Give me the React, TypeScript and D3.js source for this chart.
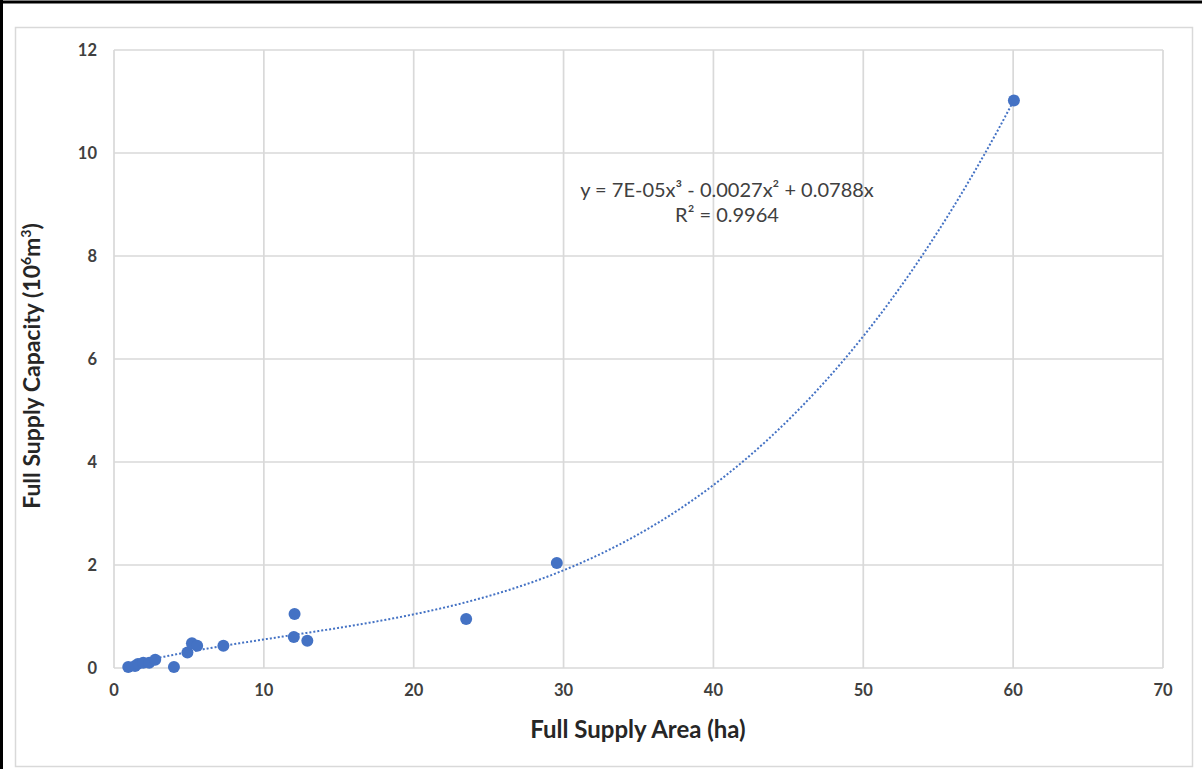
import React from 'react';
import * as d3 from 'd3';

// Full supply area (ha) and full supply capacity (10^6 m3)
const areas = [0.95, 1.4, 1.6, 1.95, 2.35, 2.75, 4.0, 4.9, 5.2, 5.55, 7.3, 12.05, 12.0, 12.9, 23.5, 29.55, 60.05];
const capacities = [0.02, 0.04, 0.08, 0.1, 0.1, 0.16, 0.02, 0.3, 0.48, 0.43, 0.43, 1.05, 0.6, 0.53, 0.95, 2.04, 11.02];

const xTicks = [0, 10, 20, 30, 40, 50, 60, 70];
const yTicks = [0, 2, 4, 6, 8, 10, 12];
const equationLines = ['y = 7E-05x³ - 0.0027x² + 0.0788x', 'R² = 0.9964'];

const W = 1202;
const H = 769;
const plot = { left: 114, right: 1163, top: 50, bottom: 668 };

// cubic fit through origin (like Excel's polynomial trendline with intercept 0)
function fitCubic(xs: number[], ys: number[]) {
  const A = [[0, 0, 0], [0, 0, 0], [0, 0, 0]];
  const b = [0, 0, 0];
  xs.forEach((x, i) => {
    const f = [x, x * x, x * x * x];
    for (let r = 0; r < 3; r++) {
      b[r] += f[r] * ys[i];
      for (let c = 0; c < 3; c++) A[r][c] += f[r] * f[c];
    }
  });
  // gaussian elimination
  for (let i = 0; i < 3; i++) {
    for (let k = i + 1; k < 3; k++) {
      const m = A[k][i] / A[i][i];
      for (let c = i; c < 3; c++) A[k][c] -= m * A[i][c];
      b[k] -= m * b[i];
    }
  }
  const coef = [0, 0, 0];
  for (let i = 2; i >= 0; i--) {
    let s = b[i];
    for (let c = i + 1; c < 3; c++) s -= A[i][c] * coef[c];
    coef[i] = s / A[i][i];
  }
  return (x: number) => coef[0] * x + coef[1] * x * x + coef[2] * x * x * x;
}

const App = () => {
  const x = d3.scaleLinear().domain([0, 70]).range([plot.left, plot.right]);
  const y = d3.scaleLinear().domain([0, 12]).range([plot.bottom, plot.top]);

  const trend = fitCubic(areas, capacities);
  const [xMin, xMax] = d3.extent(areas) as [number, number];
  const trendPts = d3.range(xMin, xMax, 0.1).concat([xMax]).map(v => [v, trend(v)] as [number, number]);
  const line = d3.line<[number, number]>().x(d => x(d[0])).y(d => y(d[1]));

  const blue = '#4472C4';
  const grid = '#d9d9d9';
  const textColor = '#404040';
  const font = 'Lato, "Open Sans", sans-serif';

  return (
    <svg width={W} height={H} style={{ position: 'absolute', left: 0, top: 0 }} fontFamily={font}>
      <rect x={0} y={0} width={W} height={H} fill="#fff" />
      {/* black frame on top and left */}
      <line x1={0} y1={2} x2={W} y2={2} stroke="#000" strokeWidth={3} />
      <line x1={1.5} y1={0} x2={1.5} y2={H} stroke="#000" strokeWidth={3} />
      {/* chart area border */}
      <rect x={15.5} y={27.5} width={1177} height={739} fill="none" stroke={grid} strokeWidth={1.5} />

      {/* gridlines */}
      {yTicks.map(t => (
        <line key={'gy' + t} x1={plot.left} x2={plot.right} y1={y(t)} y2={y(t)} stroke={grid} strokeWidth={1.7} />
      ))}
      {xTicks.map(t => (
        <line key={'gx' + t} x1={x(t)} x2={x(t)} y1={plot.top} y2={plot.bottom} stroke={grid} strokeWidth={1.7} />
      ))}

      {/* tick labels */}
      {yTicks.map(t => (
        <text key={'ty' + t} x={plot.left - 17} y={y(t)} dy="0.35em" textAnchor="end" fontSize={16.5} fontWeight="bold" fill={textColor}>
          {t}
        </text>
      ))}
      {xTicks.map(t => (
        <text key={'tx' + t} x={x(t)} y={plot.bottom + 28} textAnchor="middle" fontSize={16.5} fontWeight="bold" fill={textColor}>
          {t}
        </text>
      ))}

      {/* trendline */}
      <path d={line(trendPts) || ''} fill="none" stroke={blue} strokeWidth={2} strokeDasharray="2,2" />

      {/* points */}
      {areas.map((a, i) => (
        <circle key={'p' + i} cx={x(a)} cy={y(capacities[i])} r={6} fill={blue} />
      ))}

      {/* equation */}
      {equationLines.map((l, i) => (
        <text key={'eq' + i} x={727} y={197 + i * 25} textAnchor="middle" fontSize={20} fill={textColor}>
          {l}
        </text>
      ))}

      {/* axis titles */}
      <text x={638} y={738} textAnchor="middle" fontSize={24} fontWeight="bold" fill="#262626">
        Full Supply Area (ha)
      </text>
      <text
        transform={`translate(40,366) rotate(-90)`}
        textAnchor="middle"
        fontSize={23}
        fontWeight="bold"
        fill="#262626"
      >
        Full Supply Capacity (10<tspan dy={-9} fontSize={14}>6</tspan>
        <tspan dy={9}>m</tspan>
        <tspan dy={-9} fontSize={14}>3</tspan>
        <tspan dy={9}>)</tspan>
      </text>
    </svg>
  );
};

export default App;
